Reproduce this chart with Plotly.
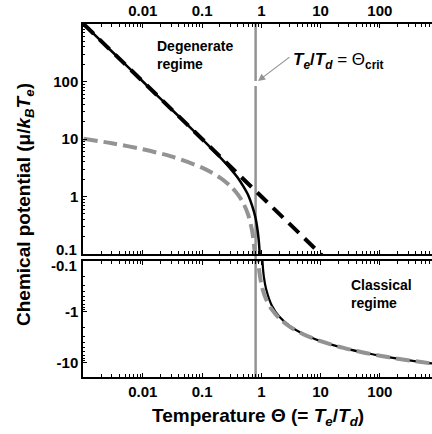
import plotly.graph_objects as go

# ---------------- data ----------------
# exact chemical potential, positive branch (top panel)
theta_fd_pos = [0.001, 0.002, 0.005, 0.01, 0.02, 0.05, 0.1, 0.15, 0.2, 0.3, 0.4,
                0.5, 0.6, 0.7, 0.8, 0.9, 0.95, 0.98]
mu_fd_pos = [1000, 500, 200, 100, 50, 19.98, 9.92, 6.54, 4.83, 3.06, 2.12,
             1.48, 1.05, 0.69, 0.42, 0.18, 0.077, 0.017]
# exact chemical potential, negative branch (bottom panel)
theta_fd_neg = [1.0, 1.05, 1.1, 1.2, 1.5, 2, 3, 5, 10, 20, 50, 100, 200, 500, 1000]
mu_fd_neg = [-0.02, -0.11, -0.2, -0.35, -0.745, -1.23, -1.88, -2.675, -3.73,
             -4.775, -6.15, -7.19, -8.23, -9.61, -10.65]
# degenerate limit (black dashed)
theta_deg = [0.001, 0.01, 0.1, 1, 12]
mu_deg = [1000, 100, 10, 1, 0.0833]
# classical limit (grey dashed)
theta_cl_pos = [0.001, 0.003, 0.01, 0.03, 0.1, 0.2, 0.3, 0.4, 0.5, 0.6, 0.7,
                0.75, 0.8, 0.82]
mu_cl_pos = [10.08, 8.43, 6.62, 4.98, 3.17, 2.13, 1.52, 1.09, 0.755, 0.48, 0.25,
             0.147, 0.05, 0.013]
theta_cl_neg = [0.84, 0.86, 0.9, 1.0, 1.1, 1.2, 1.5, 2, 3, 5, 10, 20, 50, 100,
                200, 500, 1000]
mu_cl_neg = [-0.023, -0.058, -0.127, -0.285, -0.428, -0.558, -0.893, -1.324,
             -1.932, -2.699, -3.739, -4.778, -6.153, -7.192, -8.232, -9.606, -10.646]

theta_crit = 0.8

x_major = [0.01, 0.1, 1, 10, 100]
x_major_text = ["0.01", "0.1", "1", "10", "100"]
y_top_major = [1, 10, 100]
y_top_text = ["1", "10", "100"]
y_bot_major = [1, 10]
y_bot_text = ["-1", "-10"]

# ---------------- figure ----------------
W, H = 432, 434
L = 83
FONT = "Liberation Sans, Arial, Helvetica, sans-serif"
BLACK = "#000000"
GREY = "#939393"

def px_x(p):
    return (p - L) / (W - L)

def px_y(p):
    return 1 - p / H

x_minor = [m * 10 ** e for e in range(-3, 3) for m in range(2, 10)] + [0.001, 1000]
y_minor_top = [m * 10 ** e for e in range(-1, 3) for m in range(2, 10)] + [0.1]
y_minor_bot = [m * 10 ** e for e in range(-1, 2) for m in range(2, 10)] + [0.1]

fig = go.Figure()

# top panel (x2, y2)
fig.add_trace(go.Scatter(x=theta_fd_pos, y=mu_fd_pos, mode="lines", xaxis="x2", yaxis="y2",
                         line=dict(color=BLACK, width=2.5, shape="spline", smoothing=0.8)))
fig.add_trace(go.Scatter(x=theta_deg, y=mu_deg, mode="lines", xaxis="x2", yaxis="y2",
                         line=dict(color=BLACK, width=4, dash="14px,8px")))
fig.add_trace(go.Scatter(x=theta_cl_pos, y=mu_cl_pos, mode="lines", xaxis="x2", yaxis="y2",
                         line=dict(color=GREY, width=4, dash="14px,6px", shape="spline", smoothing=0.8)))
# bottom panel (x, y) plotting -mu on reversed log axis
fig.add_trace(go.Scatter(x=theta_fd_neg, y=[-v for v in mu_fd_neg], mode="lines",
                         line=dict(color=BLACK, width=2.2, shape="spline", smoothing=0.8)))
fig.add_trace(go.Scatter(x=theta_cl_neg, y=[-v for v in mu_cl_neg], mode="lines",
                         line=dict(color=GREY, width=4, dash="14px,6px", shape="spline", smoothing=0.8)))

xr = [-3.01, 2.88]
tickfont = dict(family=FONT, size=15, color=BLACK, weight="bold")
common_x = dict(type="log", range=xr, showline=True, linecolor=BLACK, linewidth=1.5,
                mirror="allticks", ticks="inside", ticklen=4, tickwidth=1, tickcolor=BLACK,
                tickvals=x_major, ticktext=x_major_text, tickfont=tickfont,
                showgrid=False, zeroline=False,
                minor=dict(tickvals=x_minor, ticks="inside", ticklen=3, tickcolor=BLACK, showgrid=False))

fig.update_layout(
    width=W, height=H,
    margin=dict(l=L, r=0, t=0, b=0),
    paper_bgcolor="white", plot_bgcolor="white",
    showlegend=False,
    font=dict(family=FONT, color=BLACK),
    xaxis=dict(domain=[0, 1], anchor="y", side="bottom", **common_x),
    xaxis2=dict(domain=[0, 1], anchor="y2", side="top", **common_x),
    yaxis=dict(domain=[px_y(377), px_y(261)], anchor="x", type="log",
               range=[1.275, -1], showline=True, linecolor=BLACK, linewidth=1.5,
               mirror=False, ticks="inside", ticklen=4, tickcolor=BLACK,
               tickvals=y_bot_major, ticktext=y_bot_text, tickfont=tickfont,
               showgrid=False, zeroline=False,
               minor=dict(tickvals=y_minor_bot, ticks="inside", ticklen=2.5, tickcolor=BLACK, showgrid=False)),
    yaxis2=dict(domain=[px_y(254), px_y(24)], anchor="x2", type="log",
                range=[-1, 3], showline=True, linecolor=BLACK, linewidth=1.5,
                mirror=False, ticks="inside", ticklen=4, tickcolor=BLACK,
                tickvals=y_top_major, ticktext=y_top_text, tickfont=tickfont,
                showgrid=False, zeroline=False,
                minor=dict(tickvals=y_minor_top, ticks="inside", ticklen=2.5, tickcolor=BLACK, showgrid=False)),
)

# vertical critical line with gap near arrow tip
fig.add_shape(type="line", xref="x", yref="paper", x0=theta_crit, x1=theta_crit,
              y0=px_y(377), y1=px_y(86), line=dict(color=GREY, width=2.5), layer="below")
fig.add_shape(type="line", xref="x", yref="paper", x0=theta_crit, x1=theta_crit,
              y0=px_y(81), y1=px_y(24), line=dict(color=GREY, width=2.5), layer="below")

ann = []
# edge tick labels (shifted apart like the original)
ann.append(dict(text="<b>0.1</b>", x=px_x(79), y=px_y(250), xref="paper", yref="paper",
                xanchor="right", yanchor="middle", showarrow=False, font=dict(size=15)))
ann.append(dict(text="<b>-0.1</b>", x=px_x(79), y=px_y(265), xref="paper", yref="paper",
                xanchor="right", yanchor="middle", showarrow=False, font=dict(size=15)))
# region labels
ann.append(dict(text="<b>Degenerate<br>regime</b>", x=px_x(155), y=px_y(55), xref="paper", yref="paper",
                xanchor="left", yanchor="middle", align="left", showarrow=False, font=dict(size=14)))
ann.append(dict(text="<b>Classical<br>regime</b>", x=px_x(349), y=px_y(294), xref="paper", yref="paper",
                xanchor="left", yanchor="middle", align="left", showarrow=False, font=dict(size=14)))
# arrow annotation
ann.append(dict(text="", x=px_x(258), y=px_y(81), xref="paper", yref="paper",
                ax=33, ay=-25, showarrow=True, arrowhead=2, arrowsize=1.2, arrowwidth=1.2,
                arrowcolor=GREY))
ann.append(dict(text="<b><i>T</i><sub><i>e</i></sub>/<i>T</i><sub><i>d</i></sub></b> = Θ<sub><b>crit</b></sub>",
                x=px_x(291), y=px_y(61), xref="paper", yref="paper",
                xanchor="left", yanchor="middle", showarrow=False, font=dict(size=17)))
# axis titles
ann.append(dict(text="<b>Temperature Θ (= <i>T</i><sub><i>e</i></sub>/<i>T</i><sub><i>d</i></sub>)</b>",
                x=px_x(258), y=px_y(417), xref="paper", yref="paper",
                xanchor="center", yanchor="middle", showarrow=False, font=dict(size=19)))
ann.append(dict(text="<b>Chemical potential (μ/<i>k</i><sub><i>B</i></sub><i>T</i><sub><i>e</i></sub>)</b>",
                x=px_x(25), y=px_y(205), xref="paper", yref="paper", textangle=-90,
                xanchor="center", yanchor="middle", showarrow=False, font=dict(size=19)))
fig.update_layout(annotations=ann)

fig.write_html("out.html")
